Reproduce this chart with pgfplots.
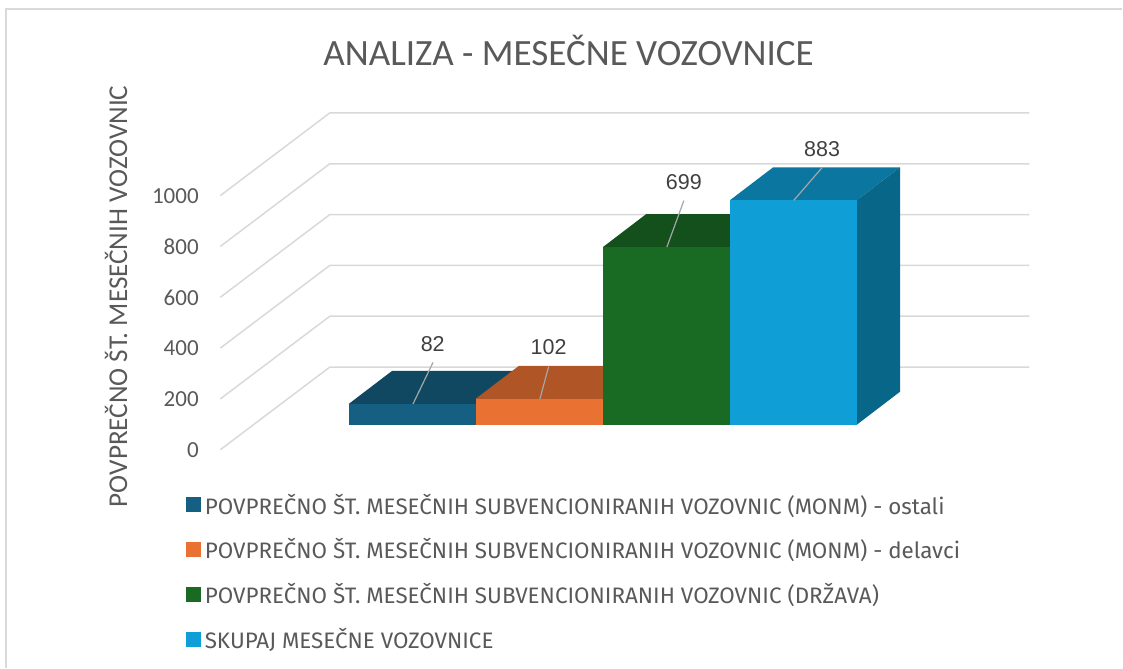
\documentclass[border=0pt]{standalone}
\usepackage{pgfplots}
\pgfplotsset{compat=1.18}
\usepackage{fontspec}
\setmainfont{Carlito}
\newfontfamily\lib{Liberation Sans}
\newfontfamily\legf{Fira Sans}
\definecolor{gridc}{HTML}{D9D9D9}
\definecolor{txt}{HTML}{595959}
\definecolor{dl}{HTML}{404040}
\definecolor{lead}{HTML}{A6A6A6}
\definecolor{aF}{HTML}{156082}
\definecolor{aT}{HTML}{104862}
\definecolor{bF}{HTML}{E97132}
\definecolor{bT}{HTML}{AF5526}
\definecolor{cF}{HTML}{196B24}
\definecolor{cT}{HTML}{13501B}
\definecolor{dF}{HTML}{0F9ED5}
\definecolor{dT}{HTML}{0B77A0}
\definecolor{dS}{HTML}{086688}
\pgfplotsset{
  gl/.style={forget plot, draw=gridc, line width=1.5pt, line join=round, mark=none},
  face/.style={forget plot, draw=none, fill=#1, mark=none},
  ldr/.style={forget plot, draw=lead, line width=1.2pt, mark=none},
  swatch/.style={legend image code/.code={\fill[#1] (0pt,-7pt) rectangle (14.5pt,7pt);}}
}
\begin{document}
\begin{tikzpicture}
\begin{axis}[
  scale only axis, width=809.5pt, height=337pt,
  xmin=220.5, xmax=1030, ymin=-98.3, ymax=1226.9,
  clip=false,
  axis line style={draw=none},
  major tick length=0pt,
  xtick=\empty,
  ytick={-98.3,101.7,301.7,501.7,701.7,901.7},
  yticklabels={0,200,400,600,800,1000},
  yticklabel style={font=\fontsize{23}{26}\selectfont, text=txt, anchor=east, inner sep=0pt, xshift=-21.5pt, yshift=-0.5pt},
  title={ANALIZA - MESEČNE VOZOVNICE},
  title style={font=\fontsize{37.1}{42}\selectfont, text=txt, at={(axis description cs:0.4305,1.169)}, anchor=center, inner sep=0pt},
  ylabel={POVPREČNO ŠT. MESEČNIH VOZOVNIC},
  ylabel style={font=\fontsize{27.2}{31}\selectfont, text=txt, at={(axis description cs:-0.129,0.4555)}, anchor=center, inner sep=0pt},
  legend style={at={(axis description cs:-0.0426,-0.1246)}, anchor=north west, draw=none, fill=none, inner sep=0pt, outer sep=0pt,
    font=\legf\fontsize{22.4}{26}\selectfont, text=txt, row sep=19pt, /tikz/every odd column/.append style={column sep=2pt}},
  legend cell align=left,
]
% frame and page extent
\path (axis cs:0,-955.6) rectangle (axis cs:1123,1671.3);
\addplot[forget plot, draw=gridc, line width=1.5pt, mark=none] coordinates {(6,-955.6)(6,1635.9)(1123,1635.9)};
% walls
\addplot[gl] coordinates {(220.5,-98.3)(330,226.9)(1030,226.9)};
\addplot[gl] coordinates {(220.5,101.7)(330,426.9)(1030,426.9)};
\addplot[gl] coordinates {(220.5,301.7)(330,626.9)(1030,626.9)};
\addplot[gl] coordinates {(220.5,501.7)(330,826.9)(1030,826.9)};
\addplot[gl] coordinates {(220.5,701.7)(330,1026.9)(1030,1026.9)};
\addplot[gl] coordinates {(220.5,901.7)(330,1226.9)(1030,1226.9)};
% bar 1: 82
\addplot[face=aT] coordinates {(349,82)(476,82)(519.3,211.8)(392.3,211.8)};
\addplot[face=aF] coordinates {(349,0)(476,0)(476,82)(349,82)};
% bar 2: 102
\addplot[face=bT] coordinates {(476,102)(603.3,102)(646.6,231.8)(519.3,231.8)};
\addplot[face=bF] coordinates {(476,0)(603.3,0)(603.3,102)(476,102)};
% bar 3: 699
\addplot[face=cT] coordinates {(603.3,699)(730.3,699)(773.6,828.8)(646.6,828.8)};
\addplot[face=cF] coordinates {(603.3,0)(730.3,0)(730.3,699)(603.3,699)};
% bar 4: 883
\addplot[face=dT] coordinates {(730.3,883)(857.3,883)(900.6,1012.8)(773.6,1012.8)};
\addplot[face=dS] coordinates {(857.3,0)(900.6,129.8)(900.6,1012.8)(857.3,883)};
\addplot[face=dF] coordinates {(730.3,0)(857.3,0)(857.3,883)(730.3,883)};
% leader lines
\addplot[ldr] coordinates {(433.3,245)(413.3,82)};
\addplot[ldr] coordinates {(549,229)(540.3,102)};
\addplot[ldr] coordinates {(684.3,881.7)(667.3,699)};
\addplot[ldr] coordinates {(822.7,1012)(794.3,883)};
% data labels
\addplot[forget plot, draw=none, mark=none, point meta=explicit symbolic, nodes near coords,
  every node near coord/.append style={anchor=center, inner sep=0pt, text=dl, font=\lib\fontsize{21.5}{24}\selectfont}]
  table[meta=l] {
x y l
433 317.2 82
549 305.4 102
684.3 954 699
822.7 1085 883
};
\addlegendimage{swatch=aF}
\addlegendentry{POVPREČNO ŠT. MESEČNIH SUBVENCIONIRANIH VOZOVNIC (MONM) - ostali}
\addlegendimage{swatch=bF}
\addlegendentry{POVPREČNO ŠT. MESEČNIH SUBVENCIONIRANIH VOZOVNIC (MONM) - delavci}
\addlegendimage{swatch=cF}
\addlegendentry{POVPREČNO ŠT. MESEČNIH SUBVENCIONIRANIH VOZOVNIC (DRŽAVA)}
\addlegendimage{swatch=dF}
\addlegendentry{SKUPAJ MESEČNE VOZOVNICE}
\end{axis}
\end{tikzpicture}
\end{document}
